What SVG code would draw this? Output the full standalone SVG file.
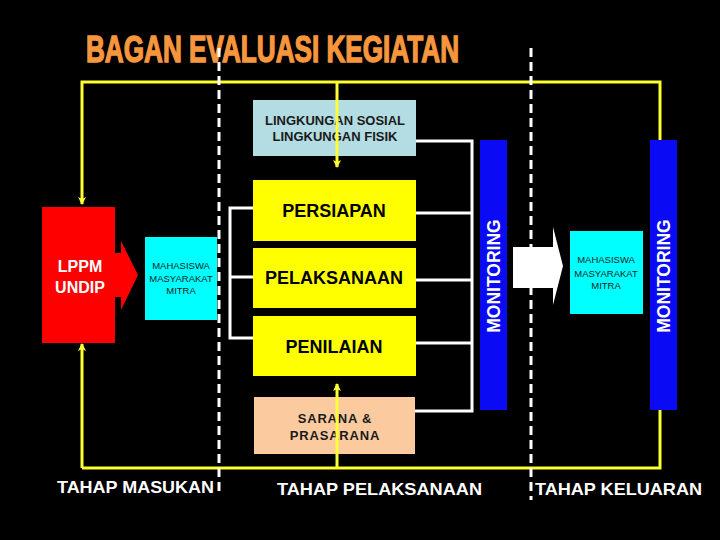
<svg xmlns="http://www.w3.org/2000/svg" width="720" height="540" viewBox="0 0 720 540">
<style>
.bg{fill:#000}
.yl{stroke:#FFFF33;stroke-width:3;fill:none}
.wl{stroke:#FFFFFF;stroke-width:3;fill:none}
.dash{stroke:#FFFFFF;stroke-width:3;stroke-dasharray:9 5;fill:none}
.t{font-family:"Liberation Sans",Arial,sans-serif}
.yb{fill:#FFFF00}
.big{font-size:18px;font-weight:bold;fill:#000;text-anchor:middle}
.mid{font-size:13px;font-weight:bold;fill:#1a1a1a;text-anchor:middle}
.small{font-size:9.5px;fill:#1a1a1a;text-anchor:middle}
.mon{font-size:17.5px;font-weight:bold;fill:#fff;text-anchor:middle}
.lab{font-size:17px;font-weight:bold;fill:#fff}
</style>
<defs>
<marker id="ah" markerWidth="8" markerHeight="8" refX="7" refY="4" orient="auto" markerUnits="userSpaceOnUse" viewBox="0 0 8 8">
<path d="M0,0 L8,4 L0,8 L2,4 Z" fill="#FFFF33"/>
</marker>
</defs>
<rect class="bg" x="0" y="0" width="720" height="540"/>
<g id="title">
<text class="t" x="86" y="62" font-size="37" font-weight="bold" fill="#F7963C" stroke="#F7963C" stroke-width="1.4" textLength="373" lengthAdjust="spacingAndGlyphs">BAGAN EVALUASI KEGIATAN</text>
</g>
<g id="connectors">
<line class="yl" x1="82" y1="468" x2="82" y2="344" marker-end="url(#ah)"/>
<polyline class="yl" points="660,410 660,468 82,468"/>
<polyline class="yl" points="660,140 660,82 82,82 82,204" marker-end="url(#ah)"/>
<line class="yl" x1="337" y1="82" x2="337" y2="100"/>
<line class="yl" x1="337" y1="468" x2="337" y2="454"/>
<polyline class="wl" points="253,208 230,208 230,338 253,338"/>
<line class="wl" x1="230" y1="277" x2="253" y2="277"/>
<polyline class="wl" points="416,141 472,141 472,411 415,411"/>
<line class="wl" x1="416" y1="213" x2="472" y2="213"/>
<line class="wl" x1="416" y1="280" x2="472" y2="280"/>
<line class="wl" x1="416" y1="343" x2="472" y2="343"/>
</g>
<g id="lppm">
<rect x="42" y="207" width="73" height="136" fill="#FF0000"/>
<text class="t" x="80" y="272" font-size="16" font-weight="bold" fill="#fff" text-anchor="middle">LPPM</text>
<text class="t" x="80" y="293" font-size="16" font-weight="bold" fill="#fff" text-anchor="middle">UNDIP</text>
</g>
<g id="arrow-red">
<polygon points="114,253 121,253 121,241 138,275 121,310 121,297 114,297" fill="#FF0000"/>
</g>
<g id="input-group">
<rect x="145" y="237" width="72" height="83" fill="#00FFFF"/>
<text class="t small" x="181" y="269">MAHASISWA</text>
<text class="t small" x="181" y="282">MASYARAKAT</text>
<text class="t small" x="181" y="294">MITRA</text>
</g>
<g id="lingkungan">
<rect x="253" y="100" width="163" height="56" fill="#B3DCE3"/>
<text class="t mid" x="335" y="125">LINGKUNGAN SOSIAL</text>
<text class="t mid" x="335" y="141">LINGKUNGAN FISIK</text>
</g>
<g id="persiapan">
<rect class="yb" x="253" y="180" width="163" height="61"/>
<text class="t big" x="334" y="217">PERSIAPAN</text>
</g>
<g id="pelaksanaan">
<rect class="yb" x="253" y="248" width="163" height="60"/>
<text class="t big" x="334" y="284">PELAKSANAAN</text>
</g>
<g id="penilaian">
<rect class="yb" x="253" y="316" width="163" height="60"/>
<text class="t big" x="334" y="353">PENILAIAN</text>
</g>
<g id="sarana">
<rect x="254" y="397" width="161" height="57" fill="#FBCB9F"/>
<text class="t mid" x="335" y="423" letter-spacing="0.8">SARANA &amp;</text>
<text class="t mid" x="335" y="440" letter-spacing="0.8">PRASARANA</text>
</g>
<g id="yellow-arrows">
<line class="yl" x1="337" y1="100" x2="337" y2="167" marker-end="url(#ah)"/>
<line class="yl" x1="337" y1="454" x2="337" y2="384" marker-end="url(#ah)"/>
</g>
<g id="dashed-lines">
<line class="dash" x1="219" y1="48" x2="219" y2="496"/>
<line class="dash" x1="531" y1="48" x2="531" y2="500"/>
</g>
<g id="monitoring-1">
<rect x="480" y="140" width="27" height="270" fill="#0A0AF5"/>
<text class="t mon" transform="translate(500,276) rotate(-90)" x="0" y="0">MONITORING</text>
</g>
<g id="arrow-white">
<polygon points="513,247 553,247 553,227 563,266 553,305 553,288 513,288" fill="#FFFFFF"/>
</g>
<g id="output-group">
<rect x="570" y="231" width="73" height="83" fill="#00FFFF"/>
<text class="t small" x="606" y="263">MAHASISWA</text>
<text class="t small" x="606" y="277">MASYARAKAT</text>
<text class="t small" x="606" y="289">MITRA</text>
</g>
<g id="monitoring-2">
<rect x="650" y="140" width="27" height="270" fill="#0A0AF5"/>
<text class="t mon" transform="translate(670,276) rotate(-90)" x="0" y="0">MONITORING</text>
</g>
<g id="labels">
<text class="t lab" x="57" y="493" textLength="157" lengthAdjust="spacingAndGlyphs">TAHAP MASUKAN</text>
<text class="t lab" x="277" y="495" textLength="205" lengthAdjust="spacingAndGlyphs">TAHAP PELAKSANAAN</text>
<text class="t lab" x="535" y="495" textLength="167" lengthAdjust="spacingAndGlyphs">TAHAP KELUARAN</text>
</g>
</svg>
